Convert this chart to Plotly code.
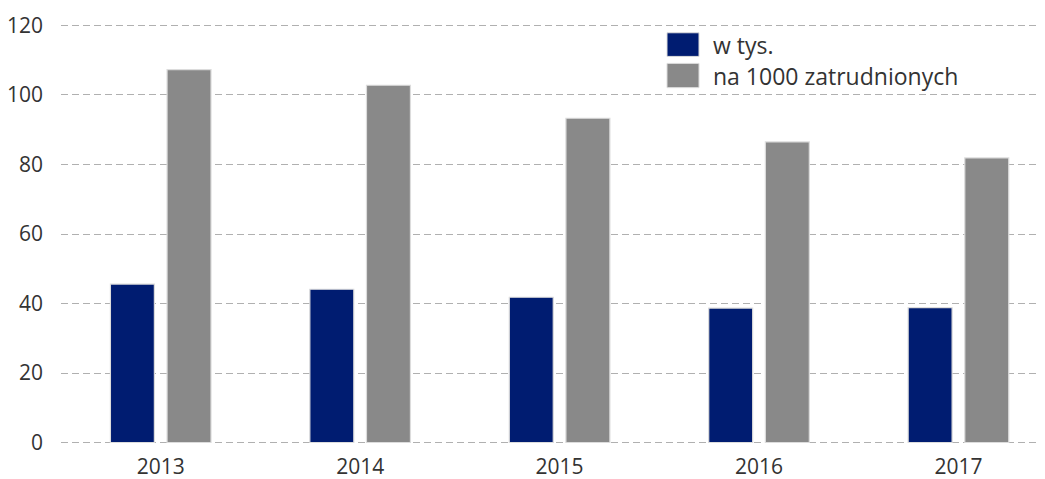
import plotly.graph_objects as go

years = ["2013", "2014", "2015", "2016", "2017"]
series_names = ["w tys.", "na 1000 zatrudnionych"]
w_tys = [45.6, 44.1, 41.8, 38.7, 38.8]
na_1000 = [107.3, 102.8, 93.3, 86.5, 81.9]
y_ticks = [0, 20, 40, 60, 80, 100, 120]

colors = ["#001C71", "#898989"]
OFF = 8  # page body margin
W, H = 1045 - OFF, 479 - OFF
ml, mt, mb = 61 - OFF, 21.5 - OFF, 32.5
plot_w = W - ml
plot_h = H - mt - mb

fig = go.Figure()
for name, vals, col in zip(series_names, [w_tys, na_1000], colors):
    fig.add_trace(go.Bar(
        x=years, y=vals, name=name,
        marker=dict(color=col, line=dict(color="#dcdcdc", width=1.2)),
        showlegend=False,
    ))

def px_x(px):
    return (px - OFF - ml) / plot_w

def px_y(py):
    return (H - mb - (py - OFF)) / plot_h

shapes = []
annotations = []
rows = [(32.3, 56.0), (63.0, 87.3)]
for (top, bot), name, col in zip(rows, series_names, colors):
    shapes.append(dict(type="rect", xref="paper", yref="paper",
                       x0=px_x(667), x1=px_x(699), y0=px_y(bot), y1=px_y(top),
                       fillcolor=col, line=dict(color="#dcdcdc", width=1)))
    annotations.append(dict(xref="paper", yref="paper", x=px_x(711), y=px_y((top + bot) / 2),
                            text=name, showarrow=False, xanchor="left", yanchor="middle",
                            font=dict(size=23, color="#333333", family="Open Sans")))

fig.update_layout(
    width=W, height=H,
    margin=dict(l=ml, r=0, t=mt, b=mb, pad=0),
    paper_bgcolor="white", plot_bgcolor="white",
    barmode="group", bargap=0.432, bargroupgap=0.224,
    font=dict(family="Open Sans", size=21, color="#333333"),
    shapes=shapes, annotations=annotations,
    xaxis=dict(type="category", range=[-0.5, 4.434], showgrid=False, showline=False,
               ticks="", tickfont=dict(size=21, color="#333333"), ticklabelstandoff=6),
    yaxis=dict(range=[-1, 121], tickvals=y_ticks, ticktext=[str(v) for v in y_ticks],
               showgrid=True, gridcolor="#b0b0b0", griddash="7px,4px", gridwidth=1.3,
               zeroline=False, showline=False, ticks="",
               tickfont=dict(size=21, color="#333333"), ticklabelstandoff=17),
)

fig.write_html("out.html")
